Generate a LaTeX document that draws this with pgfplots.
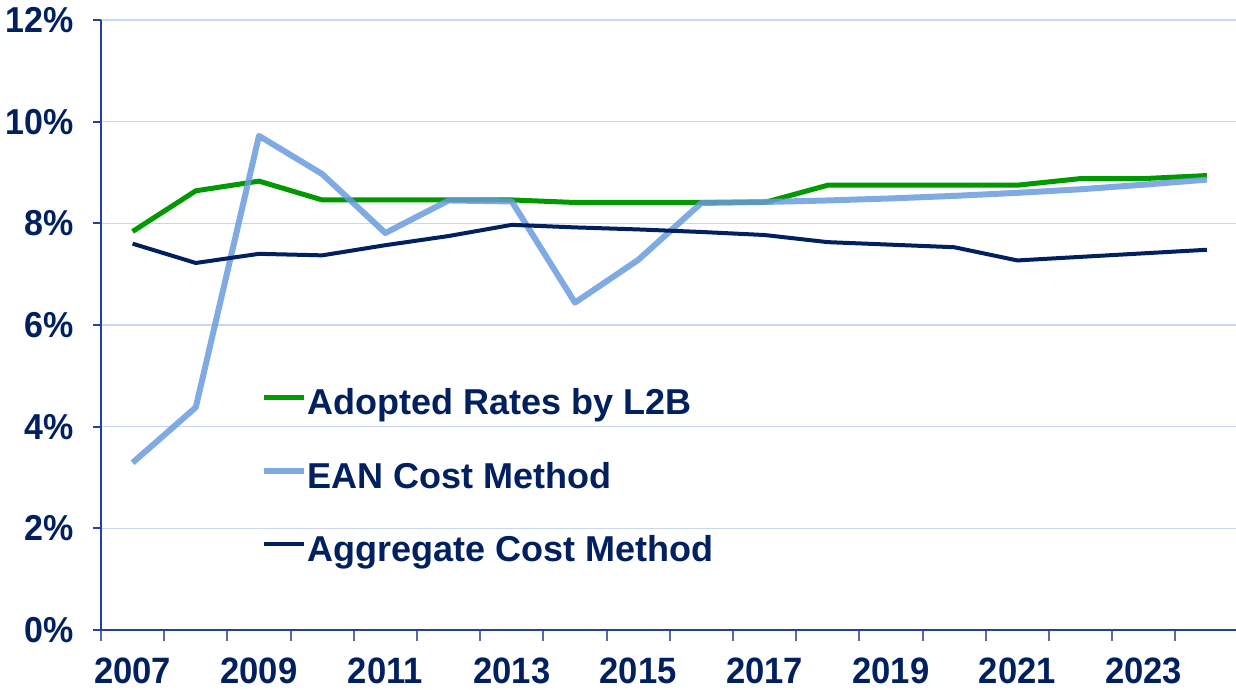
\documentclass[border=0pt]{standalone}
\usepackage{graphicx}
\usepackage{pgfplots}
\pgfplotsset{compat=1.18}
\usepackage{fontspec}
\setmainfont{Liberation Sans}
\definecolor{navy}{RGB}{0,32,96}
\definecolor{axblue}{RGB}{35,65,160}
\definecolor{tickblue}{RGB}{90,105,170}
\definecolor{gridblue}{RGB}{200,214,240}
\definecolor{lgreen}{RGB}{0,153,0}
\definecolor{lblue}{RGB}{105,155,222}
\newcommand{\vs}[1]{\scalebox{1}[1.06]{#1}}
\begin{document}
\begin{tikzpicture}
\useasboundingbox (-50.5pt,-30pt) rectangle (567.5pt,315pt);
\begin{axis}[
  at={(0pt,0pt)}, anchor=south west,
  scale only axis, width=567.5pt, height=305pt,
  xmin=2006.5, xmax=2024.46, ymin=0, ymax=12,
  axis lines=left,
  axis line style={-, draw=axblue, line width=1.3pt},
  /pgf/number format/assume math mode=true,
  ytick={0,2,4,6,8,10,12},
  yticklabel={\vs{\pgfmathprintnumber{\tick}\%}},
  yticklabel style={font=\bfseries\fontsize{17}{19}\selectfont, text=navy, xshift=-6pt},
  xtick={2007,2009,2011,2013,2015,2017,2019,2021,2023},
  xticklabels={\vs{2007},\vs{2009},\vs{2011},\vs{2013},\vs{2015},\vs{2017},\vs{2019},\vs{2021},\vs{2023}},
  xticklabel style={font=\bfseries\fontsize{17.3}{19}\selectfont, text=navy, yshift=-6.5pt},
  minor xtick={2006.5,2007.5,2008.5,2009.5,2010.5,2011.5,2012.5,2013.5,2014.5,2015.5,2016.5,2017.5,2018.5,2019.5,2020.5,2021.5,2022.5,2023.5},
  tick align=outside,
  major tick length=4pt, minor tick length=5.5pt,
  major x tick style={draw=none},
  minor x tick style={draw=tickblue, line width=1pt},
  y tick style={draw=axblue, line width=1pt},
  ymajorgrids, grid style={gridblue, line width=0.8pt},
  legend style={at={(rel axis cs:0.141,0.2515)}, anchor=west, draw=none, fill=none,
    font=\bfseries\fontsize{18}{21}\selectfont, text=navy, row sep=22.2pt, inner sep=0pt,
    nodes={inner sep=0pt}},
  legend cell align=left,
  legend image code/.code={\draw[#1] (0pt,0.3em) -- (20pt,0.3em);},
  line join=round,
]
\addplot[lgreen, line width=2.5pt] coordinates {
(2007,7.84)(2008,8.64)(2009,8.83)(2010,8.46)(2011,8.46)(2012,8.46)(2013,8.46)(2014,8.41)(2015,8.41)(2016,8.41)(2017,8.41)(2018,8.75)(2019,8.75)(2020,8.75)(2021,8.75)(2022,8.88)(2023,8.88)(2024,8.94)};
\addlegendentry{Adopted Rates by L2B}
\addplot[lblue, line width=3pt, opacity=0.85] coordinates {
(2007,3.29)(2008,4.38)(2009,9.72)(2010,8.97)(2011,7.81)(2012,8.45)(2013,8.43)(2014,6.44)(2015,7.28)(2016,8.40)(2017,8.42)(2018,8.45)(2019,8.49)(2020,8.54)(2021,8.60)(2022,8.67)(2023,8.76)(2024,8.86)};
\addlegendentry{EAN Cost Method}
\addplot[navy, line width=2pt] coordinates {
(2007,7.60)(2008,7.22)(2009,7.40)(2010,7.37)(2011,7.57)(2012,7.75)(2013,7.97)(2014,7.92)(2015,7.88)(2016,7.83)(2017,7.77)(2018,7.63)(2019,7.58)(2020,7.53)(2021,7.27)(2022,7.34)(2023,7.41)(2024,7.48)};
\addlegendentry{Aggregate Cost Method}
\end{axis}
\end{tikzpicture}
\end{document}
